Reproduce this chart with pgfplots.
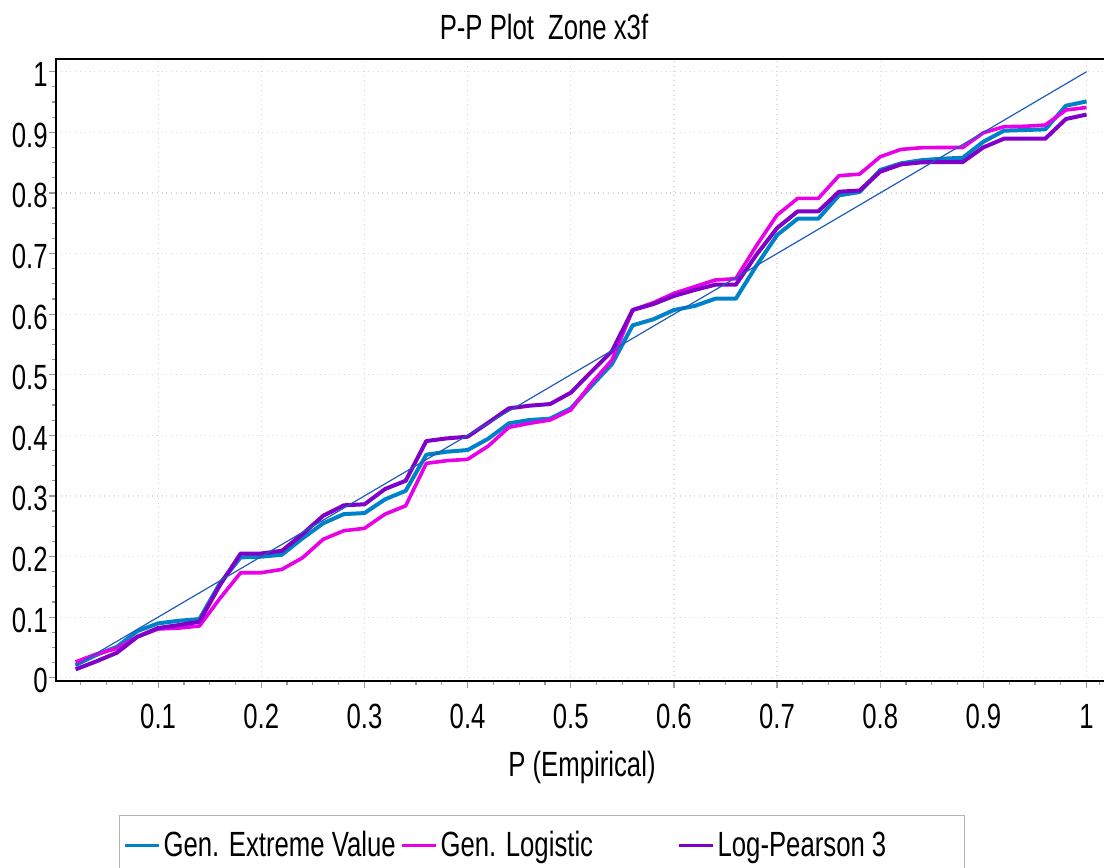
\documentclass[border=0pt]{standalone}
\usepackage{fontspec}
\setmainfont{Liberation Sans}[FakeStretch=0.735]
\usepackage{pgfplots}
\usepackage{pgfplotstable}
\pgfplotsset{compat=1.18}
\definecolor{gevc}{RGB}{0,130,200}
\definecolor{gloc}{RGB}{232,0,232}
\definecolor{lp3c}{RGB}{128,0,200}
\definecolor{diagc}{RGB}{32,90,190}
\newcommand{\cf}{\fontsize{17.5}{21}\selectfont}
\pgfplotstableread{
x gev glo lp3
0.02 0.021 0.026 0.0138
0.04 0.0375 0.039 0.027
0.06 0.051 0.0484 0.0412
0.08 0.077 0.0677 0.0677
0.10 0.0897 0.0804 0.082
0.12 0.094 0.082 0.0869
0.14 0.0968 0.0853 0.0924
0.16 0.156 0.131 0.153
0.18 0.1986 0.1733 0.205
0.20 0.1997 0.1733 0.205
0.22 0.203 0.1788 0.2095
0.24 0.230 0.198 0.237
0.26 0.2548 0.2284 0.2673
0.28 0.270 0.2426 0.2845
0.30 0.2717 0.2465 0.2862
0.32 0.2944 0.270 0.3114
0.34 0.3085 0.2838 0.3251
0.36 0.368 0.3538 0.3906
0.38 0.373 0.3582 0.395
0.40 0.3757 0.3604 0.3977
0.42 0.3944 0.3823 0.4208
0.44 0.4198 0.4132 0.4445
0.46 0.4253 0.4198 0.4489
0.48 0.4275 0.4253 0.4516
0.50 0.4445 0.4418 0.4703
0.52 0.4814 0.4858 0.505
0.54 0.5177 0.5243 0.539
0.56 0.5815 0.6068 0.6068
0.58 0.5914 0.6188 0.6166
0.60 0.6068 0.6343 0.63
0.62 0.6134 0.6453 0.6398
0.64 0.6254 0.6563 0.6485
0.66 0.6254 0.6585 0.6485
0.68 0.680 0.713 0.698
0.70 0.7305 0.7635 0.742
0.72 0.7575 0.791 0.7696
0.74 0.7575 0.791 0.7696
0.76 0.796 0.8284 0.802
0.78 0.8015 0.831 0.804
0.80 0.8378 0.8597 0.835
0.82 0.8488 0.8718 0.847
0.84 0.854 0.8746 0.8505
0.86 0.8565 0.875 0.851
0.88 0.858 0.875 0.851
0.90 0.8845 0.8993 0.8752
0.92 0.9027 0.9093 0.8895
0.94 0.9038 0.91 0.8895
0.96 0.9049 0.912 0.8895
0.98 0.9439 0.9368 0.922
1.00 0.951 0.941 0.9293
}\datatable
\begin{document}
\begin{tikzpicture}
\begin{axis}[
  at={(0,0)}, anchor=south west,
  scale only axis,
  width=526pt, height=311pt,
  xmin=0.001, xmax=1.0208,
  ymin=-0.0054, ymax=1.021,
  xtick={0.1,0.2,0.3,0.4,0.5,0.6,0.7,0.8,0.9,1},
  ytick={0,0.1,0.2,0.3,0.4,0.5,0.6,0.7,0.8,0.9,1},
  minor xtick={0.025,0.05,0.075,0.125,0.15,0.175,0.225,0.25,0.275,0.325,0.35,0.375,0.425,0.45,0.475,0.525,0.55,0.575,0.625,0.65,0.675,0.725,0.75,0.775,0.825,0.85,0.875,0.925,0.95,0.975,1.0125},
  minor ytick={0.025,0.05,0.075,0.125,0.15,0.175,0.225,0.25,0.275,0.325,0.35,0.375,0.425,0.45,0.475,0.525,0.55,0.575,0.625,0.65,0.675,0.725,0.75,0.775,0.825,0.85,0.875,0.925,0.95,0.975},
  xtick pos=left, ytick pos=left,
  tick align=outside,
  major tick length=3.5pt, minor tick length=1.8pt,
  tick style={gray!80, line width=0.6pt},
  grid=major,
  grid style={dotted, gray!30, line width=0.6pt},
  axis line style={black, line width=1pt},
  /pgf/number format/assume math mode=true,
  tick label style={font=\cf},
  xticklabel style={anchor=base, yshift=-20pt},
  yticklabel style={anchor=east, inner xsep=0pt, xshift=-0.5pt, yshift=-1.5pt},
  title={P-P Plot\hspace{7pt}Zone x3f},
  every axis title/.style={at={(axis description cs:0,1)}, anchor=base, xshift=244pt, yshift=9.5pt, font=\cf},
  xlabel={P (Empirical)},
  every axis x label/.style={at={(axis description cs:0.5,0)}, anchor=base, yshift=-47.5pt, font=\cf},
  legend columns=3,
  legend style={at={(axis description cs:0,0)}, anchor=north west, xshift=31.5pt, yshift=-67pt,
    draw=gray!60, line width=0.6pt, inner xsep=2pt, inner ysep=6pt, font=\cf,
    nodes={inner xsep=1.5pt, inner ysep=2pt},
    /tikz/column sep=0pt},
  legend cell align=left,
  legend image code/.code={\draw[#1, line width=1.5pt] (0pt,0pt) -- (17pt,0pt);},
]
\addplot[gevc, line width=2pt, line join=round] table[x=x, y=gev] {\datatable};
\addlegendentry{\makebox[117pt][l]{Gen. Extreme Value}}
\addplot[gloc, line width=1.8pt, line join=round] table[x=x, y=glo] {\datatable};
\addlegendentry{\makebox[117pt][l]{Gen. Logistic}}
\addplot[lp3c, line width=2pt, line join=round] table[x=x, y=lp3] {\datatable};
\addlegendentry{\makebox[120pt][l]{Log-Pearson 3}}
\addplot[diagc, line width=0.6pt, forget plot] coordinates {(0.02,0.02) (1,1)};
\end{axis}
\pgfresetboundingbox
\useasboundingbox (-28pt,-93.5pt) rectangle (524pt,340.5pt);
\end{tikzpicture}
\end{document}
